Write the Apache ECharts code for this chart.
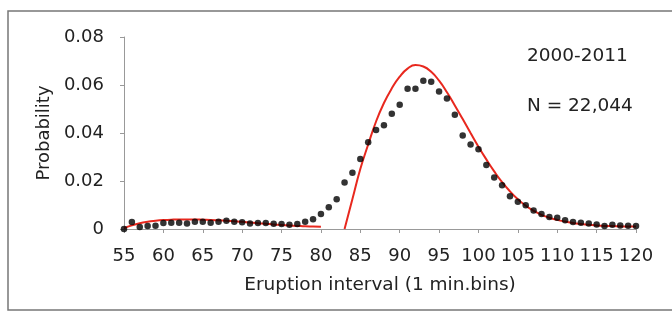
<!DOCTYPE html>
<html>
<head>
<meta charset="utf-8">
<script src="https://cdn.jsdelivr.net/npm/echarts@6/dist/echarts.min.js"></script>
<style>html,body{margin:0;padding:0;background:#fff}#c{width:672px;height:321px}</style>
</head>
<body>
<div id="c"></div>
<script>
// Observed probabilities (dots), 1-minute bins 55..120
var minutes = [55,56,57,58,59,60,61,62,63,64,65,66,67,68,69,70,71,72,73,74,75,76,77,78,79,80,81,82,83,84,85,86,87,88,89,90,91,92,93,94,95,96,97,98,99,100,101,102,103,104,105,106,107,108,109,110,111,112,113,114,115,116,117,118,119,120];
var observed = [0.0000,0.0029,0.0008,0.0012,0.0014,0.0025,0.0026,0.0026,0.0023,0.0030,0.0030,0.0026,0.0030,0.0034,0.0030,0.0028,0.0023,0.0025,0.0025,0.0022,0.0021,0.0018,0.0021,0.0030,0.0041,0.0063,0.0091,0.0124,0.0194,0.0234,0.0292,0.0361,0.0412,0.0432,0.0480,0.0518,0.0584,0.0584,0.0618,0.0614,0.0573,0.0544,0.0476,0.0390,0.0352,0.0332,0.0267,0.0215,0.0182,0.0136,0.0114,0.0099,0.0077,0.0063,0.0050,0.0047,0.0036,0.0029,0.0026,0.0023,0.0019,0.0012,0.0018,0.0015,0.0014,0.0012];

// Fitted model (red curve), two pieces
var fitLowX = [55,56,57,58,59,60,61,62,63,64,65,66,67,68,69,70,71,72,73,74,75,76,77,78,79,80];
var fitLowY = [0.0003,0.0015,0.0024,0.0030,0.0034,0.0037,0.0039,0.0040,0.0040,0.0040,0.0039,0.0038,0.0036,0.0034,0.0032,0.0030,0.0027,0.0024,0.0022,0.0019,0.0017,0.0015,0.0013,0.0011,0.0010,0.0009];
var fitHighX = [83,84,85,86,87,88,89,90,91,92,93,94,95,96,97,98,99,100,101,102,103,104,105,106,107,108,109,110,111,112,113,114,115,116,117,118,119,120];
var fitHighY = [0,0.0125,0.0250,0.0352,0.0448,0.0525,0.0586,0.0635,0.0668,0.0683,0.0677,0.0655,0.0618,0.0570,0.0515,0.0458,0.0400,0.0343,0.0290,0.0240,0.0195,0.0157,0.0124,0.0097,0.0076,0.0059,0.0047,0.0038,0.0031,0.0025,0.0021,0.0018,0.0015,0.0013,0.0012,0.0011,0.0010,0.0010];

var xTicks = {min:55, max:120, step:5};
var yTicks = {min:0, max:0.08, step:0.02};
var annotations = ["2000-2011", "N = 22,044"];
var xTitle = "Eruption interval (1 min.bins)";
var yTitle = "Probability";

function pairs(xs, ys){ return xs.map(function(x,i){ return [x, ys[i]]; }); }

var FONT = "DejaVu Sans";
var chart = echarts.init(document.getElementById('c'), null, {renderer:'canvas'});
chart.setOption({
  animation:false,
  backgroundColor:'#ffffff',
  textStyle:{fontFamily:FONT},
  grid:{left:124, right:36, top:37, bottom:92, containLabel:false},
  xAxis:{
    type:'value', min:xTicks.min, max:xTicks.max, interval:xTicks.step,
    name:xTitle, nameLocation:'middle', nameGap:47,
    nameTextStyle:{fontFamily:FONT, fontSize:18.5, color:'#222'},
    axisLine:{lineStyle:{color:'#999', width:1}},
    axisTick:{show:true, inside:false, length:4, lineStyle:{color:'#999'}},
    axisLabel:{fontFamily:FONT, fontSize:18, color:'#222', margin:18},
    splitLine:{show:false}
  },
  yAxis:{
    type:'value', min:yTicks.min, max:yTicks.max, interval:yTicks.step,
    name:yTitle, nameLocation:'middle', nameGap:61, nameRotate:90,
    nameTextStyle:{fontFamily:FONT, fontSize:18, color:'#222'},
    axisLine:{show:true, lineStyle:{color:'#999', width:1}},
    axisTick:{show:true, inside:false, length:4, lineStyle:{color:'#999'}},
    axisLabel:{fontFamily:FONT, fontSize:18, color:'#222', margin:20,
      formatter:function(v){ return v===0 ? '0' : v.toFixed(2); }},
    splitLine:{show:false}
  },
  graphic:[
    {type:'rect', shape:{x:8, y:11, width:700, height:299}, style:{fill:'none', stroke:'#777', lineWidth:1.5}, silent:true, z:-1},
    {type:'text', left:527, top:47, style:{text:annotations[0], font:'18.5px "DejaVu Sans"', fill:'#222'}},
    {type:'text', left:527, top:97, style:{text:annotations[1], font:'18.5px "DejaVu Sans"', fill:'#222'}}
  ],
  series:[
    {type:'line', data:pairs(fitLowX, fitLowY), smooth:0.5, showSymbol:false, lineStyle:{color:'#e8281e', width:2}, z:2},
    {type:'line', data:pairs(fitHighX, fitHighY), smooth:0.5, showSymbol:false, lineStyle:{color:'#e8281e', width:2}, z:2},
    {type:'scatter', data:pairs(minutes, observed), symbol:'circle', symbolSize:6.5, itemStyle:{color:'#000'}, z:3}
  ]
});
</script>
</body>
</html>
